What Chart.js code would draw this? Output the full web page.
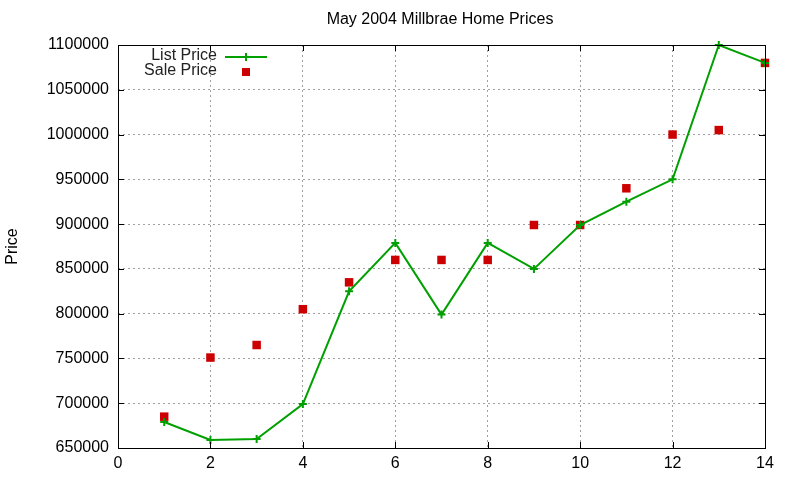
<!DOCTYPE html>
<html lang="en">
<head>
  <meta charset="UTF-8" />
  <title>May 2004 Millbrae Home Prices</title>
  <style>
    html, body { margin: 0; padding: 0; background: #fff; overflow: hidden; }
    #wrap { width: 800px; height: 480px; position: relative; }
  </style>
</head>
<body>
  <div id="wrap"><canvas id="priceChart" width="800" height="480"></canvas></div>
  <script src="https://cdn.jsdelivr.net/npm/chart.js"></script>
  <script>
    // data
    const homeNo = [1, 2, 3, 4, 5, 6, 7, 8, 9, 10, 11, 12, 13, 14];
    const listPrice = [679000, 659000, 660000, 699000, 825000, 879000, 799000, 879000, 850000, 899000, 925000, 950000, 1100000, 1080000];
    const salePrice = [685000, 751000, 765000, 805000, 835000, 860000, 860000, 860000, 899000, 899000, 940000, 1000000, 1005000, 1080000];
    const xTicks = [0, 2, 4, 6, 8, 10, 12, 14];
    const yTicks = [650000, 700000, 750000, 800000, 850000, 900000, 950000, 1000000, 1050000, 1100000];

    const FONT = 'Liberation Sans, Arial, sans-serif';
    const GREEN = '#00a000', RED = '#cc0000';

    // gnuplot-ish frame: border box, inward ticks on all four sides, title, key
    const frame = {
      id: 'frame',
      afterDatasetsDraw(chart) {
        const { ctx, chartArea: a, scales: { x, y } } = chart;
        ctx.save();
        ctx.strokeStyle = '#000';
        ctx.lineWidth = 1;
        ctx.strokeRect(a.left + 0.5, a.top + 0.5, a.right - a.left, a.bottom - a.top);
        ctx.beginPath();
        xTicks.forEach(v => {
          const px = Math.round(x.getPixelForValue(v)) + 0.5;
          ctx.moveTo(px, a.bottom); ctx.lineTo(px, a.bottom - 6);
          ctx.moveTo(px, a.top); ctx.lineTo(px, a.top + 6);
        });
        yTicks.forEach(v => {
          const py = Math.round(y.getPixelForValue(v)) + 0.5;
          ctx.moveTo(a.left, py); ctx.lineTo(a.left + 6, py);
          ctx.moveTo(a.right, py); ctx.lineTo(a.right - 6, py);
        });
        ctx.stroke();

        // title
        ctx.fillStyle = '#000';
        ctx.font = '16px ' + FONT;
        ctx.textAlign = 'center';
        ctx.textBaseline = 'middle';
        ctx.fillText('May 2004 Millbrae Home Prices', 440, 20);

        // key
        ctx.fillStyle = '#222';
        ctx.font = '16px ' + FONT;
        ctx.textAlign = 'right';
        const ds = chart.data.datasets;
        ctx.fillText(ds[0].label, 217, 56);
        ctx.fillText(ds[1].label, 217, 71);
        ctx.strokeStyle = GREEN;
        ctx.lineWidth = 2;
        ctx.beginPath();
        ctx.moveTo(225, 57); ctx.lineTo(267, 57);
        ctx.moveTo(246, 53); ctx.lineTo(246, 61);
        ctx.stroke();
        ctx.fillStyle = RED;
        ctx.fillRect(242, 68, 8, 8);
        ctx.restore();
      }
    };

    new Chart(document.getElementById('priceChart'), {
      type: 'line',
      data: {
        datasets: [
          {
            label: 'List Price',
            data: homeNo.map((n, i) => ({ x: n, y: listPrice[i] })),
            borderColor: GREEN, backgroundColor: GREEN,
            borderWidth: 2, tension: 0,
            pointStyle: 'cross', pointRadius: 4, pointBorderWidth: 2,
            pointBorderColor: GREEN
          },
          {
            label: 'Sale Price',
            data: homeNo.map((n, i) => ({ x: n, y: salePrice[i] })),
            showLine: false,
            pointStyle: 'rect', pointRadius: 6, pointBorderWidth: 0,
            backgroundColor: RED, borderColor: RED
          }
        ]
      },
      options: {
        responsive: false, animation: false, devicePixelRatio: 1,
        clip: false,
        layout: { padding: { top: 45, right: 35, bottom: 0, left: 0 } },
        plugins: { legend: { display: false }, title: { display: false }, tooltip: { enabled: false } },
        scales: {
          x: {
            type: 'linear', min: 0, max: 14,
            afterBuildTicks: s => { s.ticks = xTicks.map(v => ({ value: v })); },
            afterFit: s => { s.height = 32; },
            grid: { color: '#a0a0a0', drawTicks: false, tickLength: 0 },
            border: { display: false, dash: [2, 3] },
            ticks: { color: '#000', font: { family: FONT, size: 16 }, padding: 6, maxRotation: 0 }
          },
          y: {
            type: 'linear', min: 650000, max: 1100000,
            afterBuildTicks: s => { s.ticks = yTicks.map(v => ({ value: v })); },
            afterFit: s => { s.width = 118; },
            grid: { color: '#a0a0a0', drawTicks: false, tickLength: 0 },
            border: { display: false, dash: [2, 3] },
            title: { display: true, text: 'Price', color: '#000', font: { family: FONT, size: 16 }, padding: { top: 3, bottom: 0 } },
            ticks: { color: '#000', font: { family: FONT, size: 16 }, padding: 9, callback: v => String(v) }
          }
        }
      },
      plugins: [frame]
    });
  </script>
</body>
</html>
